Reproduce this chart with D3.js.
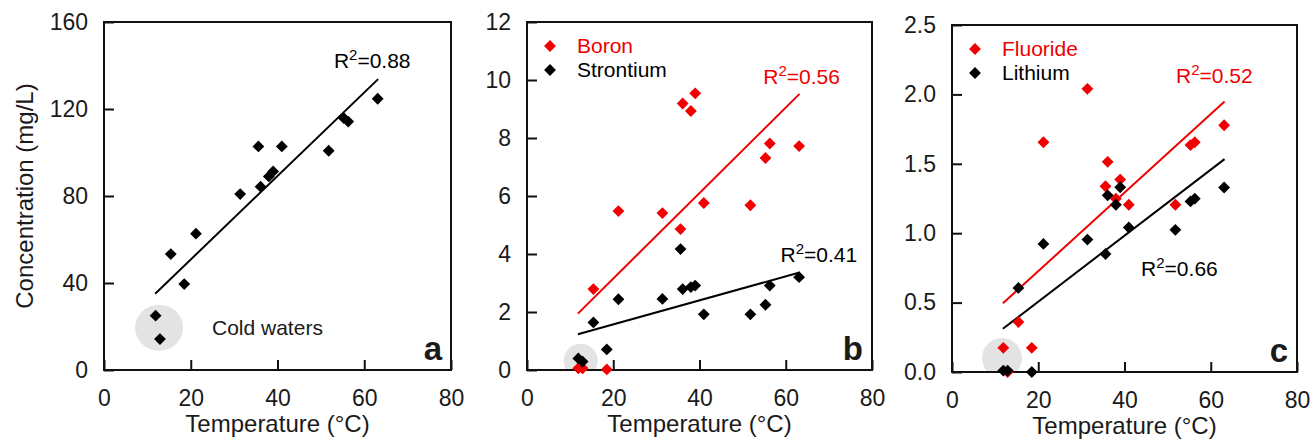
<!DOCTYPE html>
<html>
<head>
<meta charset="utf-8">
<script src="https://d3js.org/d3.v7.min.js"></script>
<style>
  body { margin: 0; background: #fff; }
  svg text { font-family: "Liberation Sans", Arial, sans-serif; fill: #1a1a1a; }
</style>
</head>
<body>
<div id="chart"></div>
<script>
// sample temperatures (°C), shared by all three panels
var temperature = [11.9, 12.9, 15.4, 18.5, 21.2, 31.4, 35.6, 36.1, 38.0, 39.0, 41.0, 51.8, 55.3, 56.3, 63.1];

// concentrations
var concA     = [25.0, 14.2, 53.3, 39.5, 62.7, 80.9, 102.8, 84.3, 89.0, 91.3, 102.8, 100.8, 115.8, 114.2, 124.7];
var boron     = [0.06, 0.06, 2.79, 0.02, 5.48, 5.41, 4.86, 9.19, 8.93, 9.54, 5.76, 5.68, 7.31, 7.81, 7.72];
var strontium = [0.40, 0.29, 1.64, 0.71, 2.44, 2.45, 4.17, 2.79, 2.86, 2.91, 1.92, 1.92, 2.25, 2.91, 3.20];
var fluoride  = [0.174, 0.0, 0.36, 0.174, 1.655, 2.04, 1.338, 1.514, 1.249, 1.386, 1.205, 1.205, 1.635, 1.655, 1.778];
var lithium   = [0.01, 0.01, 0.606, 0.0, 0.923, 0.954, 0.85, 1.273, 1.205, 1.331, 1.041, 1.024, 1.229, 1.249, 1.329];

// linear fits [slope, intercept] and R² labels
var fitConcA = [1.92, 12.4],     r2ConcA = "0.88";
var fitBoron = [0.1474, 0.205],  r2Boron = "0.56";
var fitStron = [0.0414, 0.746],  r2Stron = "0.41";
var fitFluor = [0.02828, 0.161], r2Fluor = "0.52";
var fitLith  = [0.02378, 0.031], r2Lith  = "0.66";
var fitRange = [11.8, 63.2];

// tick labels
var xTicks  = [0, 20, 40, 60, 80];
var yTicksA = [0, 40, 80, 120, 160];
var yTicksB = [0, 2, 4, 6, 8, 10, 12];
var yTicksC = [0, 0.5, 1.0, 1.5, 2.0, 2.5];

var RED = "#f00000", BLACK = "#000";

var svg = d3.select("#chart").append("svg")
  .attr("width", 1311).attr("height", 440);

var panels = [
  { id: "a", left: 104, right: 451, top: 22, bottom: 370, ymax: 160, yTicks: yTicksA, fmt: d3.format("d"),
    series: [{ y: concA, color: BLACK, fit: fitConcA, r2: r2ConcA, lab: [53, 139] }],
    halo: { x: 12.7, y: 19.4, rx: 24, ry: 23 }, ytitle: true, note: { text: "Cold waters", x: 24.9, y: 19.4 } },
  { id: "b", left: 527, right: 872, top: 22, bottom: 370, ymax: 12, yTicks: yTicksB, fmt: d3.format("d"),
    series: [{ y: boron, color: RED, fit: fitBoron, r2: r2Boron, lab: [54.8, 9.85], name: "Boron" },
             { y: strontium, color: BLACK, fit: fitStron, r2: r2Stron, lab: [58.8, 3.74], name: "Strontium" }],
    halo: { x: 12.45, y: 0.32, rx: 17, ry: 17 } },
  { id: "c", left: 952, right: 1297, top: 25, bottom: 372, ymax: 2.5, yTicks: yTicksC, fmt: d3.format(".1f"),
    series: [{ y: fluoride, color: RED, fit: fitFluor, r2: r2Fluor, lab: [51.96, 2.084], name: "Fluoride" },
             { y: lithium, color: BLACK, fit: fitLith, r2: r2Lith, lab: [43.85, 0.689], name: "Lithium" }],
    halo: { x: 11.6, y: 0.1, rx: 20, ry: 20 } }
];

var diamond = d3.symbol().type(d3.symbolSquare).size(70);

panels.forEach(function(p) {
  var x = d3.scaleLinear().domain([0, 80]).range([p.left, p.right]);
  var y = d3.scaleLinear().domain([0, p.ymax]).range([p.bottom, p.top]);
  var g = svg.append("g");

  // clip for the grey "cold waters" halo
  svg.append("clipPath").attr("id", "clip-" + p.id)
    .append("rect").attr("x", p.left).attr("y", p.top)
    .attr("width", p.right - p.left).attr("height", p.bottom - p.top);

  g.append("ellipse")
    .attr("clip-path", "url(#clip-" + p.id + ")")
    .attr("cx", x(p.halo.x)).attr("cy", y(p.halo.y))
    .attr("rx", p.halo.rx).attr("ry", p.halo.ry)
    .attr("fill", "#e3e3e3");

  // axes with inward ticks
  var xa = g.append("g").attr("transform", "translate(0," + p.bottom + ")")
    .call(d3.axisBottom(x).tickValues(xTicks).tickSizeInner(-10).tickSizeOuter(0).tickPadding(20));
  var ya = g.append("g").attr("transform", "translate(" + p.left + ",0)")
    .call(d3.axisLeft(y).tickValues(p.yTicks).tickFormat(p.fmt).tickSizeInner(-10).tickSizeOuter(0).tickPadding(16));
  [xa, ya].forEach(function(a) {
    a.select(".domain").remove();
    a.selectAll(".tick line").attr("stroke", "#111").attr("stroke-width", 2);
    a.selectAll(".tick text").style("font-size", "23px").attr("fill", "#1a1a1a");
  });

  g.append("rect")
    .attr("x", p.left).attr("y", p.top)
    .attr("width", p.right - p.left).attr("height", p.bottom - p.top)
    .attr("fill", "none").attr("stroke", "#111").attr("stroke-width", 2);

  // regression lines
  p.series.forEach(function(s) {
    g.append("line")
      .attr("x1", x(fitRange[0])).attr("y1", y(s.fit[0] * fitRange[0] + s.fit[1]))
      .attr("x2", x(fitRange[1])).attr("y2", y(s.fit[0] * fitRange[1] + s.fit[1]))
      .attr("stroke", s.color).attr("stroke-width", 2);
  });

  // points
  p.series.forEach(function(s) {
    g.selectAll(null).data(s.y).enter().append("path")
      .attr("d", diamond)
      .attr("transform", function(d, i) { return "translate(" + x(temperature[i]) + "," + y(d) + ") rotate(45)"; })
      .attr("fill", s.color);
  });

  // R² labels
  p.series.forEach(function(s) {
    var t = g.append("text").attr("x", x(s.lab[0])).attr("y", y(s.lab[1]))
      .style("font-size", "21px").style("fill", s.color);
    t.append("tspan").text("R");
    t.append("tspan").attr("dy", -8).style("font-size", "15px").text("2");
    t.append("tspan").attr("dy", 8).text("=" + s.r2);
  });

  // legend
  p.series.forEach(function(s, i) {
    if (!s.name) return;
    g.append("path").attr("d", diamond)
      .attr("transform", "translate(" + (p.left + 23) + "," + (p.top + 24 + i * 24) + ") rotate(45)")
      .attr("fill", s.color);
    g.append("text").attr("x", p.left + 50).attr("y", p.top + 31 + i * 24)
      .style("font-size", "21px").style("fill", s.color).text(s.name);
  });

  if (p.note) {
    g.append("text").attr("x", x(p.note.x)).attr("y", y(p.note.y) + 7)
      .style("font-size", "21px").text(p.note.text);
  }

  // panel letter
  g.append("text").attr("x", p.right - 9).attr("y", p.bottom - 10)
    .attr("text-anchor", "end").style("font-size", "33px").style("font-weight", "bold")
    .text(p.id);

  // axis titles
  g.append("text").attr("x", (p.left + p.right) / 2).attr("y", p.bottom + 62)
    .attr("text-anchor", "middle").style("font-size", "24px").text("Temperature (°C)");
  if (p.ytitle) {
    g.append("text").attr("transform", "translate(33," + ((p.top + p.bottom) / 2) + ") rotate(-90)")
      .attr("text-anchor", "middle").style("font-size", "24px").text("Concentration (mg/L)");
  }
});
</script>
</body>
</html>
